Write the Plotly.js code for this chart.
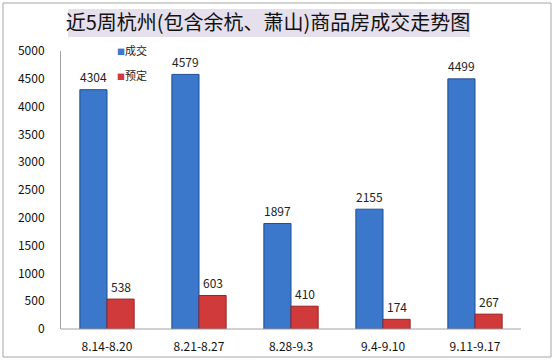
<!DOCTYPE html>
<html>
<head>
<meta charset="utf-8">
<script src="https://cdn.plot.ly/plotly-3.0.1.min.js"></script>
<style>html,body{margin:0;padding:0;background:#fff;}#chart{width:554px;height:361px;}</style>
</head>
<body>
<div id="chart"></div>
<script>
var categories = ["8.14-8.20", "8.21-8.27", "8.28-9.3", "9.4-9.10", "9.11-9.17"];
var dealValues = [4304, 4579, 1897, 2155, 4499];
var reserveValues = [538, 603, 410, 174, 267];
var seriesNames = ["成交", "预定"];
var seriesColors = ["#3b78cc", "#d03a3a"];
var titleText = "近5周杭州(包含余杭、萧山)商品房成交走势图";

var font = "Noto Sans CJK SC, Noto Sans, sans-serif";
var L = 61, R = 521, T = 51, B = 329;
function px(x){ return (x - L) / (R - L); }
function py(y){ return (B - y) / (B - T); }

var traces = [
  {
    type: "bar", name: seriesNames[0], x: categories, y: dealValues,
    marker: {color: seriesColors[0], line: {color: "#1f4f91", width: 1}},
    hoverinfo: "x+y"
  },
  {
    type: "bar", name: seriesNames[1], x: categories, y: reserveValues,
    marker: {color: seriesColors[1], line: {color: "#9a2222", width: 1}},
    hoverinfo: "x+y"
  }
];

var annotations = [];
[dealValues, reserveValues].forEach(function(vals, si){
  vals.forEach(function(v, i){
    annotations.push({x: categories[i], y: v, xref: "x", yref: "y", text: String(v),
      showarrow: false, xanchor: "center", yanchor: "middle",
      xshift: si === 0 ? -13.5 : 13.5, yshift: 13,
      font: {family: font, size: 12, color: "#222"}});
  });
});
seriesNames.forEach(function(n, si){
  annotations.push({x: px(115), y: py(50 + si * 25), xref: "paper", yref: "paper",
    text: "<span style='color:" + seriesColors[si] + ";font-size:8px'>■</span>" + n,
    showarrow: false, xanchor: "left", yanchor: "middle",
    font: {family: font, size: 11, color: "#222"}});
});

var layout = {
  width: 554, height: 361,
  margin: {l: L, r: 554 - R, t: T, b: 361 - B, pad: 0},
  paper_bgcolor: "#ffffff", plot_bgcolor: "#ffffff",
  barmode: "group", bargap: 0.41, bargroupgap: 0,
  showlegend: false,
  title: {text: titleText, font: {family: font, size: 20, color: "#111"},
          x: px(268), xref: "paper", xanchor: "center",
          y: 1 - 23/361, yref: "container", yanchor: "middle"},
  xaxis: {type: "category", showline: false, showgrid: false, zeroline: false,
          ticks: "", tickfont: {family: font, size: 12, color: "#111"},
          ticklabelstandoff: 9, fixedrange: true},
  yaxis: {range: [0, 5000], dtick: 500, showgrid: false, zeroline: false,
          showline: true, linecolor: "#a0a0a0", linewidth: 1, ticks: "",
          tickfont: {family: font, size: 12, color: "#111"},
          ticklabelstandoff: 13, fixedrange: true},
  annotations: annotations,
  shapes: [
    {type: "rect", xref: "paper", yref: "paper", x0: px(3), x1: px(551), y0: py(357), y1: py(3),
     line: {color: "#a6a6a6", width: 1}, fillcolor: "rgba(0,0,0,0)", layer: "below"},
    {type: "rect", xref: "paper", yref: "paper", x0: px(68), x1: px(470), y0: py(37), y1: py(9),
     line: {width: 0}, fillcolor: "#e5e0ec", layer: "below"},
    {type: "line", xref: "paper", yref: "paper", x0: 0, x1: 1, y0: 0, y1: 0,
     line: {color: "#a0a0a0", width: 1}}
  ]
};

Plotly.newPlot("chart", traces, layout, {displayModeBar: false, staticPlot: true});
</script>
</body>
</html>
